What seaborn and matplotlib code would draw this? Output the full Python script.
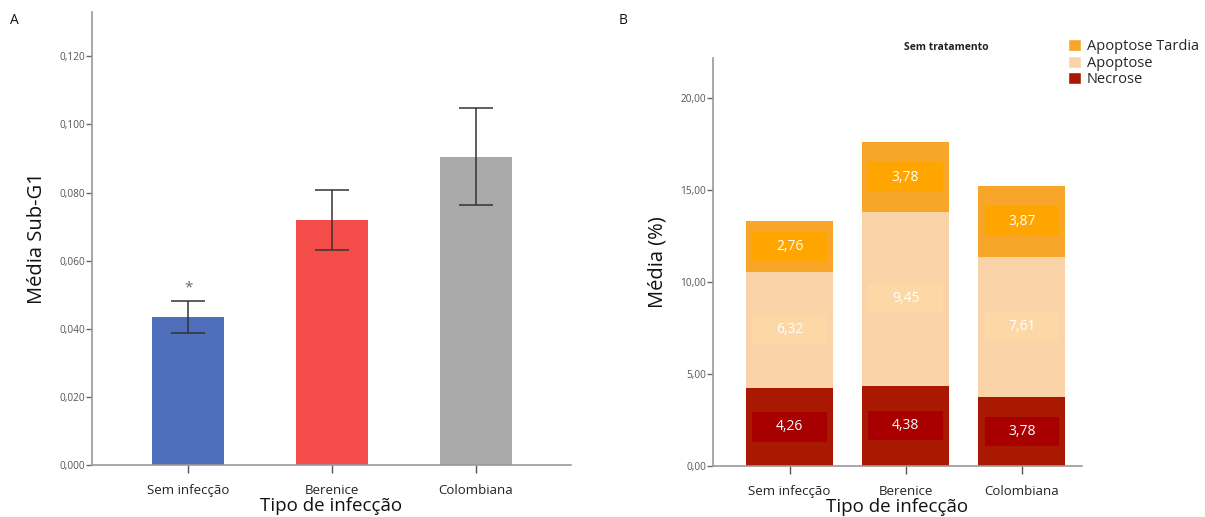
import matplotlib
matplotlib.use("Agg")
import matplotlib.pyplot as plt
import seaborn as sns
import numpy as np
from matplotlib.ticker import FuncFormatter, FixedLocator
from matplotlib.patches import Patch

# ---------------- data ----------------
categories = ["Sem infecção", "Berenice", "Colombiana"]
subg1_mean = [0.0434, 0.0718, 0.0905]
subg1_err_low = [0.0387, 0.0631, 0.0764]
subg1_err_high = [0.0482, 0.0807, 0.1047]
subg1_yticks = [0.0, 0.02, 0.04, 0.06, 0.08, 0.10, 0.12]

necrose = [4.26, 4.38, 3.78]
apoptose = [6.32, 9.45, 7.61]
apoptose_tardia = [2.76, 3.78, 3.87]
pct_yticks = [0, 5, 10, 15, 20]
series_names = ["Apoptose Tardia", "Apoptose", "Necrose"]

# ---------------- style ----------------
sns.set_theme(style="white")
plt.rcParams["font.family"] = ["Open Sans", "DejaVu Sans"]

left_colors = ["#4F6EBB", "#F44C48", "#AAAAAA"]
c_tardia, c_apop, c_necr = "#F8A629", "#FBD3A8", "#A91800"
box_tardia, box_apop, box_necr = "#FFA500", "#FCD8A6", "#A80000"
axis_gray = "#999999"
tick_gray = "#555555"

fig = plt.figure(figsize=(12.05, 5.17), dpi=100)
W, H = 1205, 517

def fx(px):
    return px / W

def fy(py):
    return 1 - py / H

axA = fig.add_axes([fx(92), fy(465), fx(571 - 92), fy(12) - fy(465)])
axB = fig.add_axes([fx(713), fy(466), fx(1082 - 713), fy(58) - fy(466)])

# ---------------- panel A ----------------
sns.barplot(x=categories, y=subg1_mean, hue=categories, palette=left_colors,
            saturation=1, width=0.5, legend=False, ax=axA, errorbar=None,
            linewidth=0)
xpos = np.arange(len(categories))
mean = np.array(subg1_mean)
yerr = np.vstack([mean - np.array(subg1_err_low), np.array(subg1_err_high) - mean])
axA.errorbar(xpos, mean, yerr=yerr, fmt="none", ecolor="#333333",
             elinewidth=1.1, capsize=12, capthick=1.1, zorder=5)
axA.text(xpos[0], subg1_err_high[0] + 0.0038, "*", ha="center", va="center",
         fontsize=11, color="#666666")

axA.set_xlim(-0.67, 2.66)
axA.set_ylim(0, 0.133)
axA.yaxis.set_major_locator(FixedLocator(subg1_yticks))
axA.yaxis.set_major_formatter(FuncFormatter(lambda v, p: f"{v:.3f}".replace(".", ",")))
axA.set_ylabel("Média Sub-G1", fontsize=14.5, color="#111111", labelpad=9)
axA.set_xlabel("Tipo de infecção", fontsize=13.5, color="#111111", labelpad=0)

# ---------------- panel B ----------------
nec = np.array(necrose)
apo = np.array(apoptose)
tar = np.array(apoptose_tardia)
tot = nec + apo + tar
sns.barplot(x=categories, y=tot, color=c_tardia, saturation=1, width=0.75,
            ax=axB, errorbar=None, linewidth=0)
sns.barplot(x=categories, y=nec + apo, color=c_apop, saturation=1, width=0.75,
            ax=axB, errorbar=None, linewidth=0)
sns.barplot(x=categories, y=nec, color=c_necr, saturation=1, width=0.75,
            ax=axB, errorbar=None, linewidth=0)

box_h = 1.6
box_w = 0.64
seg_specs = [
    (np.zeros(3), nec, box_necr),
    (nec, apo, box_apop),
    (nec + apo, tar, box_tardia),
]
for bottoms, vals, bcol in seg_specs:
    centers = bottoms + vals / 2
    axB.bar(xpos, [box_h] * 3, bottom=centers - box_h / 2, width=box_w,
            color=bcol, linewidth=0, zorder=3)
    for xi, c, v in zip(xpos, centers, vals):
        axB.text(xi, c, f"{v:.2f}".replace(".", ","), ha="center", va="center",
                 color="white", fontsize=10, zorder=4)

axB.set_xlim(-0.66, 2.52)
axB.set_ylim(0, 22.2)
axB.yaxis.set_major_locator(FixedLocator(pct_yticks))
axB.yaxis.set_major_formatter(FuncFormatter(lambda v, p: f"{v:.2f}".replace(".", ",")))
axB.set_ylabel("Média (%)", fontsize=14.5, color="#111111", labelpad=9)
axB.set_xlabel("Tipo de infecção", fontsize=13.5, color="#111111", labelpad=0)

# ---------------- common axes styling ----------------
for ax in (axA, axB):
    sns.despine(ax=ax)
    for s in ("left", "bottom"):
        ax.spines[s].set_color(axis_gray)
        ax.spines[s].set_linewidth(1.2)
    ax.tick_params(axis="y", direction="out", length=4, width=1, color="#666666",
                   labelsize=7.3, labelcolor=tick_gray, pad=1, left=True)
    ax.tick_params(axis="x", direction="out", length=6, width=1, color="#555555",
                   labelsize=9.5, labelcolor="#222222", pad=8, bottom=True)
    ax.grid(False)

# ---------------- texts & legend ----------------
fig.text(fx(10), fy(20), "A", fontsize=10, color="#111111", va="center", ha="left")
fig.text(fx(619), fy(20), "B", fontsize=10, color="#111111", va="center", ha="left")
fig.text(fx(946), fy(48), "Sem tratamento", fontsize=7.5, fontweight="bold",
         color="#222222", ha="center", va="center")

handles = [Patch(facecolor=c_tardia, label=series_names[0]),
           Patch(facecolor=c_apop, label=series_names[1]),
           Patch(facecolor=c_necr, label=series_names[2])]
fig.legend(handles=handles, loc="upper left", bbox_to_anchor=(fx(1068), fy(39)),
           frameon=False, fontsize=10.5, handlelength=0.9, handleheight=0.9,
           handletextpad=0.4, labelspacing=0.1, borderaxespad=0, borderpad=0)

fig.savefig("out.png", dpi=100)
